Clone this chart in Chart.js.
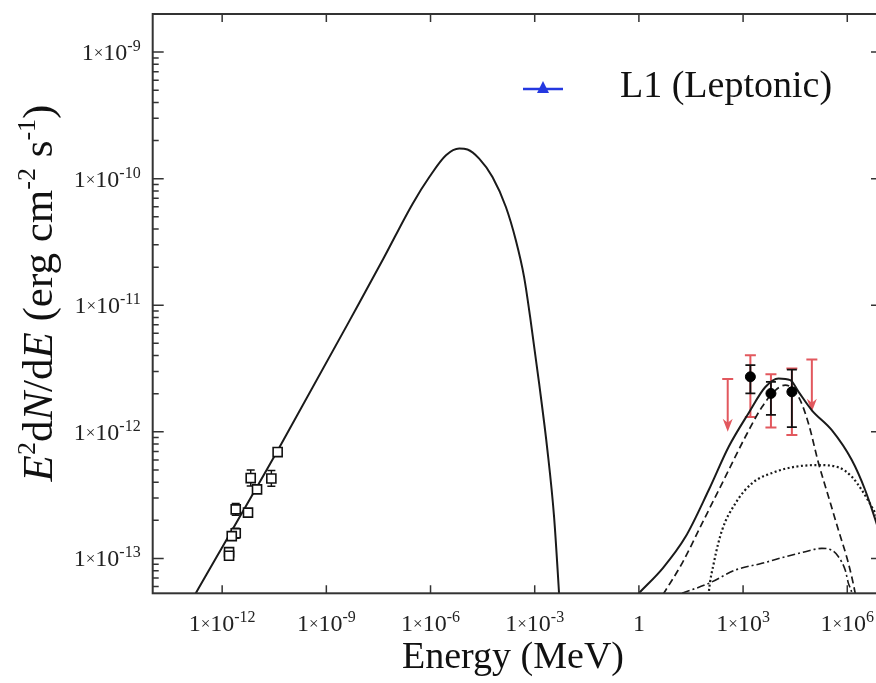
<!DOCTYPE html>
<html>
<head>
<meta charset="utf-8">
<script src="https://cdn.jsdelivr.net/npm/chart.js@4.4.0/dist/chart.umd.min.js"></script>
<style>
  html, body { margin: 0; padding: 0; background: #fff; overflow: hidden; }
  #wrap { width: 890px; height: 683px; }
</style>
</head>
<body>
<div id="wrap"><canvas id="myChart" width="890" height="683"></canvas></div>
<script>
// model curves (energy in MeV, flux in erg cm^-2 s^-1)
var synE = [1.0e-13, 1.74e-13, 4.04e-11, 8.15e-9, 4.41e-8, 3.06e-7, 9.25e-7, 2.79e-6, 6.73e-6, 1.16e-5, 2.52e-5, 6.08e-5, 1.48e-4, 2.86e-4, 4.95e-4, 7.38e-4, 1.34e-3, 2.32e-3, 3.61e-3, 5.02e-3, 5.37e-3];
var synF = [4.07e-14, 5.31e-14, 7.18e-13, 1.0e-11, 2.34e-11, 6.35e-11, 1.03e-10, 1.53e-10, 1.73e-10, 1.70e-10, 1.44e-10, 1.03e-10, 5.97e-11, 3.26e-11, 1.67e-11, 8.09e-12, 2.41e-12, 7.18e-13, 2.13e-13, 5.31e-14, 3.9e-14];

var totE = [0.52, 1.0, 4.90, 22.0, 102.6, 385, 1449, 4375, 1.05e4, 2.29e4, 3.96e4, 9.55e4, 3.59e5, 1.35e6, 3.27e6, 6.05e6, 1.1e7];
var totF = [4.37e-14, 5.31e-14, 8.39e-14, 1.48e-13, 3.47e-13, 7.62e-13, 1.41e-12, 2.26e-12, 2.64e-12, 2.56e-12, 2.07e-12, 1.48e-12, 1.03e-12, 5.98e-13, 3.47e-13, 2.13e-13, 1.28e-13];

var cmbE = [3.4, 5.22, 17.5, 65.9, 310, 1164, 3491, 8472, 1.64e4, 3.96e4, 7.67e4, 1.49e5, 2.88e5, 5.58e5, 1.08e6, 1.69e6, 1.9e6];
var cmbF = [4.37e-14, 5.31e-14, 9.14e-14, 1.89e-13, 4.42e-13, 9.14e-13, 1.57e-12, 2.13e-12, 2.34e-12, 1.89e-12, 1.16e-12, 5.64e-13, 3.07e-13, 1.67e-13, 9.14e-14, 5.31e-14, 4.37e-14];

var irE = [95.5, 102.6, 143, 248, 601, 1803, 8472, 3.18e4, 1.49e5, 5.58e5, 1.35e6, 2.61e6, 5.06e6, 1.1e7];
var irF = [3.98e-14, 5.31e-14, 9.14e-14, 1.67e-13, 2.72e-13, 3.92e-13, 4.83e-13, 5.30e-13, 5.46e-13, 5.24e-13, 4.42e-13, 3.47e-13, 2.56e-13, 1.74e-13];

var brE = [17.5, 102.6, 601, 3491, 1.64e4, 6.17e4, 1.85e5, 3.59e5, 5.58e5, 8.71e5, 1.08e6, 1.35e6, 1.48e6];
var brF = [5.31e-14, 6.35e-14, 8.09e-14, 9.14e-14, 1.03e-13, 1.13e-13, 1.20e-13, 1.16e-13, 1.03e-13, 8.09e-14, 6.35e-14, 5.31e-14, 4.37e-14];

// radio / X-ray points (open squares)
var sqE = [3.96e-11, 6.64e-12, 2.61e-11, 1.01e-11, 5.55e-12, 2.46e-12, 2.46e-12, 1.89e-12, 1.58e-12, 1.58e-12];
var sqF = [6.92e-13, 4.31e-13, 4.28e-13, 3.51e-13, 2.30e-13, 2.44e-13, 1.58e-13, 1.50e-13, 1.12e-13, 1.05e-13];
var sqHi = [6.92e-13, 4.99e-13, 4.95e-13, 3.51e-13, 2.30e-13, 2.72e-13, 1.73e-13, 1.50e-13, 1.12e-13, 1.05e-13];
var sqLo = [6.92e-13, 3.73e-13, 3.72e-13, 3.51e-13, 2.30e-13, 2.19e-13, 1.44e-13, 1.50e-13, 1.12e-13, 1.05e-13];

// gamma-ray points (filled circles) with stat (black) and sys (red) errors
var gE = [1622, 6339, 2.54e4];
var gF = [2.72e-12, 2.01e-12, 2.07e-12];
var gHi = [3.37e-12, 2.48e-12, 3.10e-12];
var gLo = [2.01e-12, 1.36e-12, 1.09e-12];
var sysHi = [4.03e-12, 2.85e-12, 3.16e-12];
var sysLo = [1.31e-12, 1.08e-12, 9.42e-13];

// upper limits
var ulE = [361, 9.55e4];
var ulF = [2.61e-12, 3.73e-12];
var ulTip = [1.0e-12, 1.44e-12];

var xTickExp = [-12, -9, -6, -3, 0, 3, 6];
var yTickExp = [-13, -12, -11, -10, -9];

var SERIF = '"Liberation Serif", "Times New Roman", serif';
var RED = '#e2585e';

function pts(xs, ys) {
  return xs.map(function (v, i) { return {x: v, y: ys[i]}; });
}

function drawPow(ctx, exp, x, y, align) {
  var parts;
  if (exp === 0) parts = [['1', '24px ' + SERIF, 0]];
  else parts = [['1', '24px ' + SERIF, 0], ['\u00d7', '17px ' + SERIF, -2], ['10', '24px ' + SERIF, 0], [String(exp), '16px ' + SERIF, -9]];
  var w = 0;
  parts.forEach(function (p) { ctx.font = p[1]; p.push(ctx.measureText(p[0]).width); w += p[3]; });
  var cx = align === 'center' ? x - w / 2 : x - w;
  ctx.textAlign = 'left';
  ctx.textBaseline = 'alphabetic';
  parts.forEach(function (p) { ctx.font = p[1]; ctx.fillText(p[0], cx, y + p[2]); cx += p[3]; });
}

function drawRich(ctx, parts, x, y) {
  var cx = x;
  parts.forEach(function (p) {
    ctx.font = p[1];
    ctx.fillText(p[0], cx, y + (p[2] || 0));
    cx += ctx.measureText(p[0]).width;
  });
  return cx;
}

function richWidth(ctx, parts) {
  var w = 0;
  parts.forEach(function (p) { ctx.font = p[1]; w += ctx.measureText(p[0]).width; });
  return w;
}

function bar(ctx, x, y1, y2, cap) {
  ctx.beginPath();
  ctx.moveTo(x, y1); ctx.lineTo(x, y2);
  ctx.moveTo(x - cap, y1); ctx.lineTo(x + cap, y1);
  ctx.moveTo(x - cap, y2); ctx.lineTo(x + cap, y2);
  ctx.stroke();
}

var extras = {
  id: 'extras',
  beforeDatasetsDraw: function (chart) {
    var ctx = chart.ctx, xs = chart.scales.x, ys = chart.scales.y;
    ctx.save();
    // red systematic bars
    ctx.strokeStyle = RED; ctx.lineWidth = 2;
    gE.forEach(function (e, i) {
      bar(ctx, xs.getPixelForValue(e), ys.getPixelForValue(sysHi[i]), ys.getPixelForValue(sysLo[i]), 5.5);
    });
    // upper limit arrows
    ulE.forEach(function (e, i) {
      var x = xs.getPixelForValue(e), y1 = ys.getPixelForValue(ulF[i]), y2 = ys.getPixelForValue(ulTip[i]);
      ctx.strokeStyle = RED; ctx.fillStyle = RED; ctx.lineWidth = 2;
      ctx.beginPath();
      ctx.moveTo(x - 5.5, y1); ctx.lineTo(x + 5.5, y1);
      ctx.moveTo(x, y1); ctx.lineTo(x, y2 - 6);
      ctx.stroke();
      ctx.beginPath();
      ctx.moveTo(x, y2); ctx.lineTo(x - 5, y2 - 13); ctx.lineTo(x, y2 - 9); ctx.lineTo(x + 5, y2 - 13);
      ctx.closePath(); ctx.fill();
    });
    // black statistical bars
    ctx.strokeStyle = '#111'; ctx.lineWidth = 1.8;
    gE.forEach(function (e, i) {
      bar(ctx, xs.getPixelForValue(e), ys.getPixelForValue(gHi[i]), ys.getPixelForValue(gLo[i]), 5);
    });
    ctx.lineWidth = 1.4;
    sqE.forEach(function (e, i) {
      if (sqHi[i] === sqLo[i]) return;
      bar(ctx, xs.getPixelForValue(e), ys.getPixelForValue(sqHi[i]), ys.getPixelForValue(sqLo[i]), 4);
    });
    ctx.restore();
  },
  afterDraw: function (chart) {
    var ctx = chart.ctx, xs = chart.scales.x, ys = chart.scales.y, a = chart.chartArea;
    ctx.save();
    ctx.strokeStyle = '#333'; ctx.lineWidth = 2;
    ctx.strokeRect(a.left, a.top, a.right - a.left, a.bottom - a.top);
    ctx.lineWidth = 1.5;
    ctx.beginPath();
    xTickExp.forEach(function (ex) {
      var x = xs.getPixelForValue(Math.pow(10, ex));
      ctx.moveTo(x, a.bottom); ctx.lineTo(x, a.bottom - 8);
      ctx.moveTo(x, a.top); ctx.lineTo(x, a.top + 8);
    });
    for (var d = -14; d <= -9; d++) {
      for (var m = 1; m <= 9; m++) {
        var v = m * Math.pow(10, d);
        if (v < ys.min || v > ys.max) continue;
        var y = ys.getPixelForValue(v), len = m === 1 ? 11 : 6;
        ctx.moveTo(a.left, y); ctx.lineTo(a.left + len, y);
        ctx.moveTo(a.right, y); ctx.lineTo(a.right - len, y);
      }
    }
    ctx.stroke();

    // tick labels
    ctx.fillStyle = '#222';
    xTickExp.forEach(function (ex) {
      drawPow(ctx, ex, xs.getPixelForValue(Math.pow(10, ex)), a.bottom + 38, 'center');
    });
    yTickExp.forEach(function (ex) {
      drawPow(ctx, ex, a.left - 12, ys.getPixelForValue(Math.pow(10, ex)) + 8, 'right');
    });

    // x title
    ctx.fillStyle = '#111';
    ctx.font = '38px ' + SERIF;
    ctx.textAlign = 'center';
    ctx.fillText('Energy (MeV)', 513, 668);

    // y title
    var R = '43px ' + SERIF, I = 'italic 43px ' + SERIF, S = '26px ' + SERIF;
    var yt = [['E', I], ['2', S, -17], ['d', R], ['N', I], ['/', R], ['d', R], ['E', I],
              [' (erg cm', R], ['-2', S, -17], [' s', R], ['-1', S, -17], [')', R]];
    ctx.save();
    ctx.translate(52, 293);
    ctx.rotate(-Math.PI / 2);
    ctx.textAlign = 'left';
    drawRich(ctx, yt, -richWidth(ctx, yt) / 2, 0);
    ctx.restore();

    // legend
    ctx.strokeStyle = '#2438e0'; ctx.fillStyle = '#2438e0'; ctx.lineWidth = 2.5;
    ctx.beginPath(); ctx.moveTo(523, 89); ctx.lineTo(563, 89); ctx.stroke();
    ctx.beginPath(); ctx.moveTo(543, 81); ctx.lineTo(549, 93); ctx.lineTo(537, 93); ctx.closePath(); ctx.fill();
    ctx.fillStyle = '#111';
    ctx.font = '38px ' + SERIF;
    ctx.textAlign = 'left';
    ctx.fillText('L1 (Leptonic)', 620, 97);
    ctx.restore();
  }
};

var lineBase = {showLine: true, pointRadius: 0, borderColor: '#1a1a1a', cubicInterpolationMode: 'monotone', clip: 0, fill: false};

new Chart('myChart', {
  type: 'scatter',
  data: {
    datasets: [
      {label: 'Fermi', data: pts(gE, gF), pointStyle: 'circle', pointRadius: 5, backgroundColor: '#000', borderColor: '#000', borderWidth: 1},
      {label: 'Radio/X', data: pts(sqE, sqF), pointStyle: 'rect', pointRadius: 6.4, backgroundColor: '#fff', borderColor: '#111', borderWidth: 1.6},
      Object.assign({label: 'Synchrotron', data: pts(synE, synF), borderWidth: 2}, lineBase),
      Object.assign({label: 'Total IC', data: pts(totE, totF), borderWidth: 2}, lineBase),
      Object.assign({label: 'IC CMB', data: pts(cmbE, cmbF), borderWidth: 1.7, borderDash: [7, 4]}, lineBase),
      Object.assign({label: 'IC IR', data: pts(irE, irF), borderWidth: 2.2, borderDash: [2, 2.5]}, lineBase),
      Object.assign({label: 'IC other', data: pts(brE, brF), borderWidth: 1.6, borderDash: [8, 3, 2, 3]}, lineBase)
    ]
  },
  options: {
    responsive: false,
    animation: false,
    layout: {padding: {left: 152.7, top: 14, right: 6.4, bottom: 89.7}},
    plugins: {legend: {display: false}, tooltip: {enabled: false}},
    scales: {
      x: {type: 'logarithmic', min: 1e-14, max: 1e7, display: false},
      y: {type: 'logarithmic', min: 5.3e-14, max: 2e-9, display: false}
    }
  },
  plugins: [extras]
});
</script>
</body>
</html>
